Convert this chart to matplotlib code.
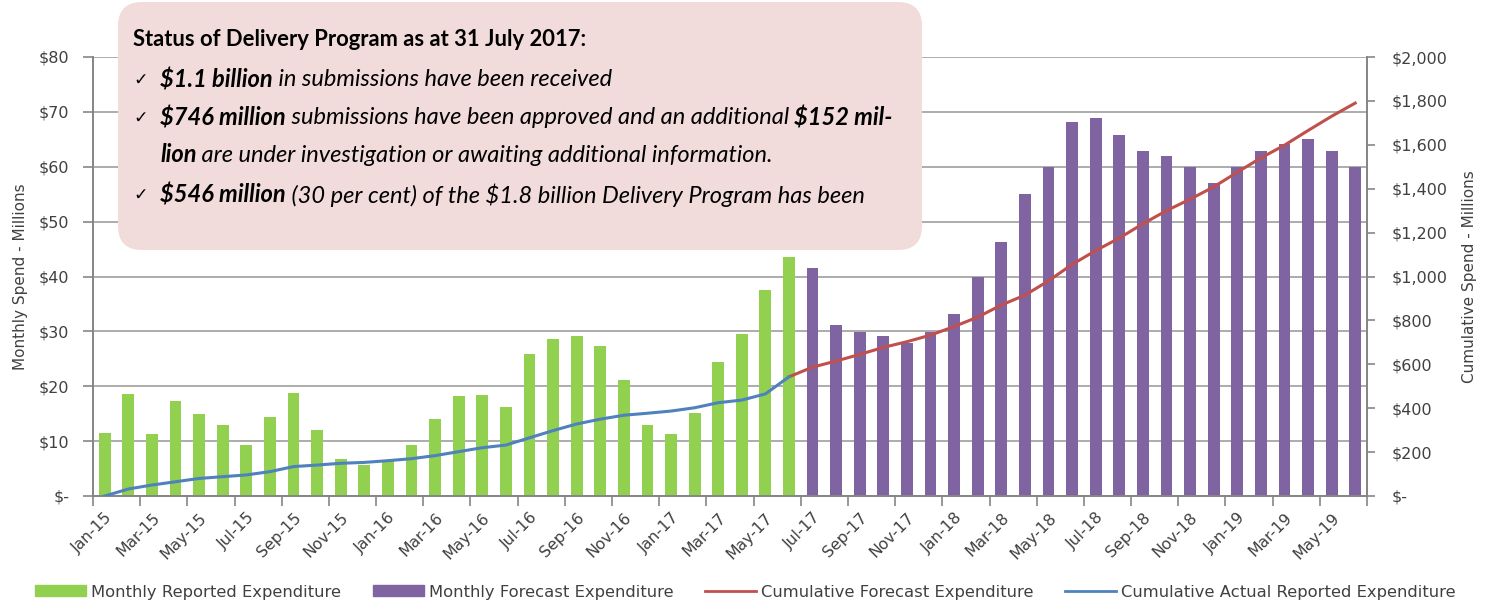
import numpy as np
import matplotlib
matplotlib.use("Agg")
import matplotlib.pyplot as plt
from matplotlib.patches import Patch, FancyBboxPatch
from matplotlib.lines import Line2D
from matplotlib.transforms import IdentityTransform
from matplotlib.ticker import FixedLocator, NullFormatter

plt.rcParams['font.family'] = ['DejaVu Sans']
BOXFONT = ['Lato', 'DejaVu Sans']

# ---------------- data ----------------
tick_labels = ["Jan-15", "Mar-15", "May-15", "Jul-15", "Sep-15", "Nov-15",
               "Jan-16", "Mar-16", "May-16", "Jul-16", "Sep-16", "Nov-16",
               "Jan-17", "Mar-17", "May-17", "Jul-17", "Sep-17", "Nov-17",
               "Jan-18", "Mar-18", "May-18", "Jul-18", "Sep-18", "Nov-18",
               "Jan-19", "Mar-19", "May-19"]

# Monthly reported expenditure, Jan-15 .. Jun-17 ($M)
reported = [11.5, 18.5, 11.3, 17.3, 15.0, 13.0, 9.3, 14.4, 18.7, 12.1, 6.8, 5.6,
            6.5, 9.3, 14.1, 18.2, 18.4, 16.2, 25.9, 28.7, 29.2, 27.4, 21.2, 13.0,
            11.3, 15.2, 24.5, 29.5, 37.6, 43.5]
# Monthly forecast expenditure, Jul-17 .. Jun-19 ($M)
forecast = [41.5, 31.1, 29.9, 29.1, 27.9, 29.9, 33.1, 39.9, 46.2, 55.0, 60.0, 68.1,
            68.9, 65.8, 62.8, 61.9, 60.0, 57.0, 60.0, 62.8, 64.2, 65.0, 62.8, 60.0]
# Cumulative actual reported, Jan-15 .. Jun-17 ($M)
cum_actual = [0, 32, 50, 65, 80, 88, 96, 111, 134, 141, 149, 153, 161, 170, 184,
              202, 220, 232, 265, 298, 328, 350, 368, 377, 387, 402, 425, 437, 465, 543]
# Cumulative forecast, Jun-17 .. Jun-19 ($M)
cum_forecast = [543, 587, 615, 645, 677, 703, 733, 772, 815, 870, 915, 980, 1055,
                1118, 1175, 1240, 1300, 1352, 1408, 1475, 1540, 1598, 1665, 1730, 1790]

# ---------------- colours ----------------
GREEN = "#92d050"
PURPLE = "#8064a2"
RED = "#c0504d"
BLUE = "#4f81bd"
GRID = "#a6a6a6"
SPINE = "#868686"
TXT = "#404040"

W, H = 1491, 604
fig = plt.figure(figsize=(W / 100, H / 100), dpi=100)
ax = fig.add_axes([93 / W, 1 - 496 / H, 1274 / W, 439 / H])
ax2 = ax.twinx()

n_rep = len(reported)
n_fc = len(forecast)
n = n_rep + n_fc
x_rep = np.arange(n_rep)
x_fc = np.arange(n_rep, n)

ax.bar(x_rep, reported, width=0.5, color=GREEN, zorder=2)
ax.bar(x_fc, forecast, width=0.5, color=PURPLE, zorder=2)
ax.set_xlim(-0.5, n - 0.5)
ax.set_ylim(0, 80)
ax.set_yticks(np.arange(0, 81, 10))
ax.set_yticklabels(["$-"] + [f"${v}" for v in range(10, 81, 10)])
ax.yaxis.grid(True, color=GRID, linewidth=1.3, zorder=0)
ax.set_axisbelow(True)

ax2.plot(np.arange(n_rep - 1, n), cum_forecast, color=RED, linewidth=2.2, zorder=3)
ax2.plot(x_rep, cum_actual, color=BLUE, linewidth=2.2, zorder=4)
ax2.set_ylim(0, 2000)
ax2.set_yticks(np.arange(0, 2001, 200))
ax2.set_yticklabels(["$-"] + [f"${v:,}" for v in range(200, 2001, 200)])

# x ticks: labels at bar centres every other month, tick marks at boundaries
ax.set_xticks(np.arange(0, n, 2))
ax.set_xticklabels(tick_labels, rotation=45, ha="right", rotation_mode="anchor",
                   fontsize=11.3, color=TXT)
ax.tick_params(axis="x", which="major", length=0, pad=10)
ax.xaxis.set_minor_locator(FixedLocator(np.arange(-0.5, n, 2)))
ax.xaxis.set_minor_formatter(NullFormatter())
ax.tick_params(axis="x", which="minor", length=7, color=SPINE, width=1.2)

ax.tick_params(axis="y", length=7, color=SPINE, width=1.2, labelsize=11.5,
               labelcolor=TXT, pad=10)
ax2.tick_params(axis="y", length=6, color=SPINE, width=1.2, labelsize=11.5,
                labelcolor=TXT, pad=12)

for a in (ax, ax2):
    a.spines["top"].set_visible(False)
    for s in ("left", "right", "bottom"):
        a.spines[s].set_color(SPINE)
        a.spines[s].set_linewidth(1.3)

ax.set_ylabel("Monthly Spend - Millions", fontsize=11, color=TXT, labelpad=8)
ax2.set_ylabel("Cumulative Spend - Millions", fontsize=11, color=TXT,
               rotation=90, labelpad=10)

# legend
handles = [Patch(color=GREEN), Patch(color=PURPLE),
           Line2D([], [], color=RED, linewidth=2),
           Line2D([], [], color=BLUE, linewidth=2)]
labels = ["Monthly Reported Expenditure", "Monthly Forecast Expenditure",
          "Cumulative Forecast Expenditure", "Cumulative Actual Reported Expenditure"]
fig.legend(handles, labels, loc="center", bbox_to_anchor=(0.5, 1 - 592 / H),
           ncol=4, frameon=False, fontsize=11.8, handlelength=3.1, handleheight=0.62,
           handletextpad=0.3, columnspacing=1.95, labelcolor=TXT)

# ---------------- annotation box ----------------
box = FancyBboxPatch((118, H - 250), 804, 248,
                     boxstyle="round,pad=0,rounding_size=24",
                     transform=IdentityTransform(), facecolor="#f2dcdb",
                     edgecolor="none", zorder=10)
fig.patches.append(box)

renderer = fig.canvas.get_renderer()


def put_line(x_px, y_px, pieces, fs):
    x = x_px
    for txt, weight, style in pieces:
        t = fig.text(x / W, 1 - y_px / H, txt, fontsize=fs, fontweight=weight,
                     fontstyle=style, color="black", va="center", ha="left",
                     family=BOXFONT, zorder=11)
        bb = t.get_window_extent(renderer=renderer)
        x += bb.width


def check(y_px):
    fig.text(133 / W, 1 - y_px / H, "\u2713", fontsize=12.5, color="black",
             va="center", family=["DejaVu Sans"], zorder=11)


FT = 15.8
FI = 17
put_line(133, 40, [("Status of Delivery Program as at 31 July 2017:", "bold", "normal")], FT)
check(80)
put_line(160, 80, [("$1.1 billion", "bold", "italic"),
                   (" in submissions have been received", "normal", "italic")], FI)
check(118)
put_line(160, 118, [("$746 million", "bold", "italic"),
                    (" submissions have been approved and an additional ", "normal", "italic"),
                    ("$152 mil-", "bold", "italic")], FI)
put_line(160, 155, [("lion", "bold", "italic"),
                    (" are under investigation or awaiting additional information.", "normal", "italic")], FI)
check(195)
put_line(160, 195, [("$546 million", "bold", "italic"),
                    (" (30 per cent) of the $1.8 billion Delivery Program has been", "normal", "italic")], FI)

fig.savefig("out.png", dpi=100)
